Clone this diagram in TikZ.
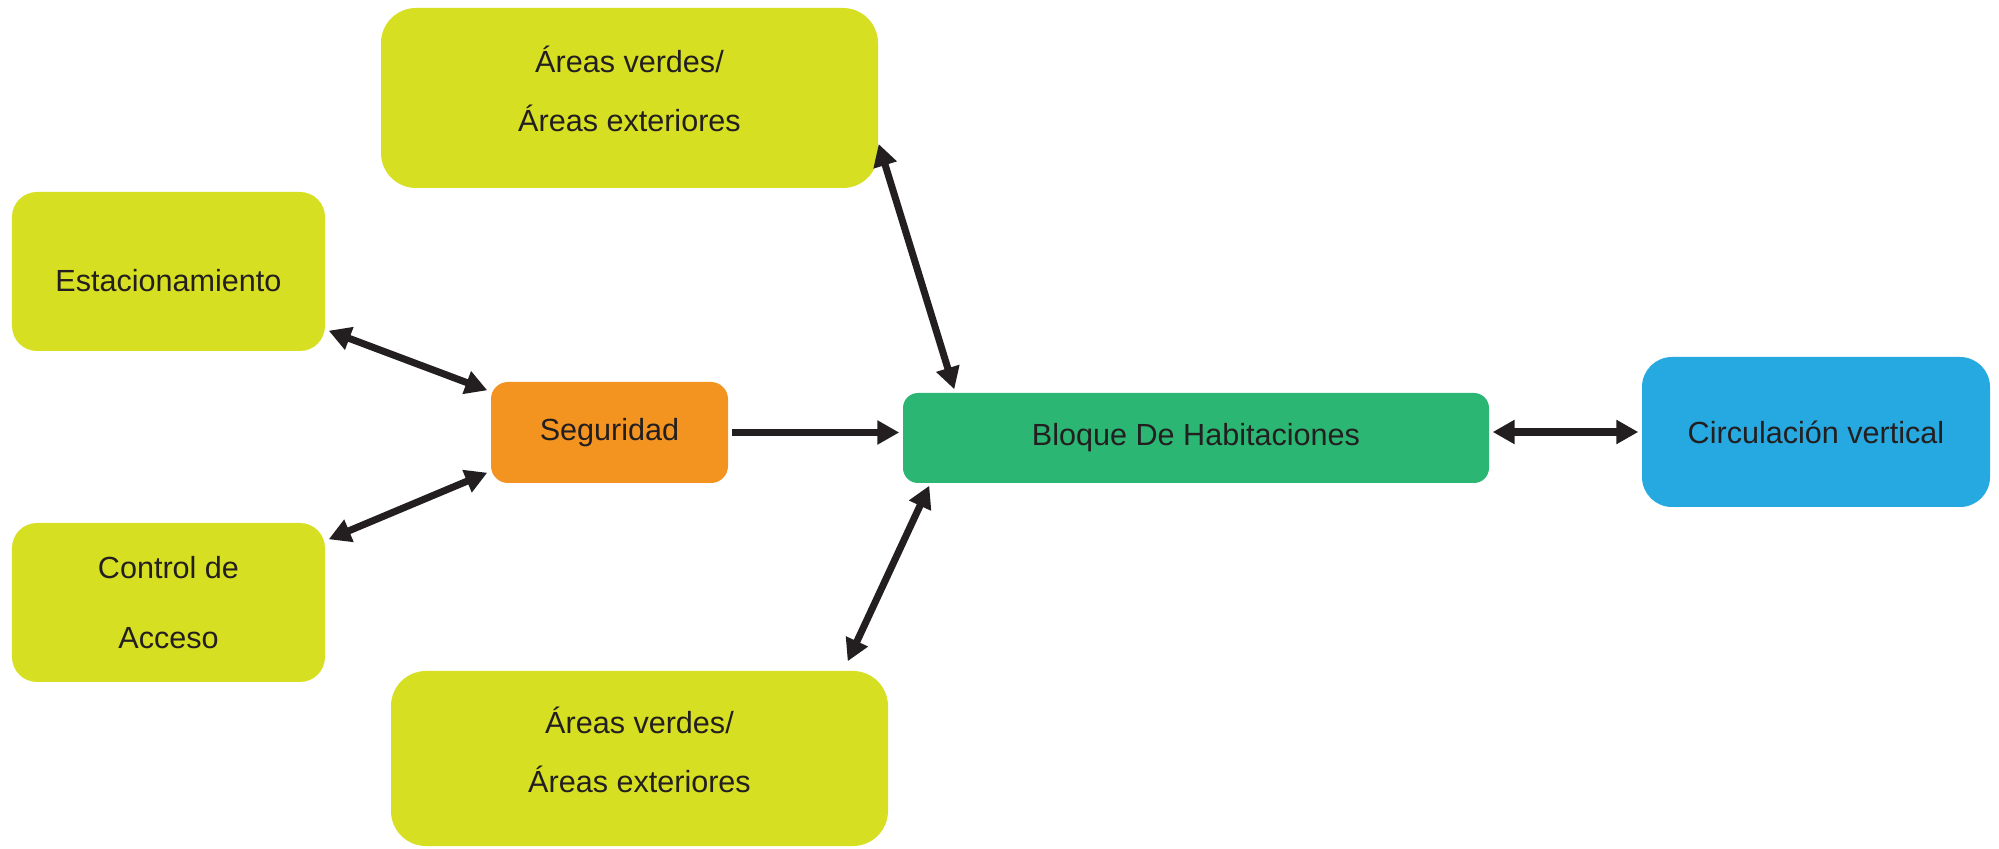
\documentclass[tikz,border=0pt]{standalone}
\usepackage{fontspec}
\setmainfont{Liberation Sans}
\usepackage{xcolor}
\usepackage{tikz}
\usetikzlibrary{arrows.meta,calc}

\definecolor{lima}{HTML}{D6DF21}
\definecolor{naranja}{HTML}{F39320}
\definecolor{verde}{HTML}{2BB673}
\definecolor{celeste}{HTML}{25A9E0}
\definecolor{tinta}{HTML}{231F20}
\newcommand{\boxfont}{\fontsize{8.7}{10.4}\selectfont}

\begin{document}
\begin{tikzpicture}[
  zona/.style={rectangle,rounded corners=2.5mm,fill=lima,text=tinta,align=center,font=\boxfont,inner sep=0pt},
  verdes/.style={zona,rounded corners=3.5mm,minimum width=4.97cm,text depth=1.8mm},
  lateral/.style={zona,minimum width=3.13cm,minimum height=1.59cm},
  seguro/.style={zona,fill=naranja,rounded corners=1.7mm,minimum width=2.37cm,minimum height=1.01cm},
  bloque/.style={zona,fill=verde,rounded corners=1.5mm,minimum width=5.86cm,minimum height=0.90cm},
  vertical/.style={zona,fill=celeste,rounded corners=3mm,minimum width=3.48cm,minimum height=1.50cm},
  arr/.style={-{Triangle[length=2.2mm,width=2.3mm]},line width=2pt,draw=tinta},
  darr/.style={arr,{Triangle[length=2.2mm,width=2.3mm]}-{Triangle[length=2.2mm,width=2.3mm]}}
]
\useasboundingbox (0,0) rectangle (19.99,8.48);

% Exterior areas
\node[verdes,minimum height=1.80cm] (verdesA) at (6.295,7.50) {Áreas verdes/\\[6.5pt]Áreas exteriores};
\node[verdes,minimum height=1.75cm] (verdesB) at (6.395,0.895) {Áreas verdes/\\[6.5pt]Áreas exteriores};

% Access side
\node[lateral] (est) at (1.685,5.765) {\raisebox{-0.9mm}[\height][\depth]{Estacionamiento}};
\node[lateral] (ctrl) at (1.685,2.455) {Control de\\[9.5pt]Acceso};
\node[seguro] (seg) at (6.095,4.155) {Seguridad};

% Main block
\node[bloque] (hab) at (11.96,4.10) {Bloque De Habitaciones};
\node[vertical] (circ) at (18.16,4.16) {Circulación vertical};

% Arrows
\draw[darr] ([yshift=-4.6mm]verdesA.east) -- ([xshift=5.2mm,yshift=0.3mm]hab.north west);
\draw[darr] ([xshift=2.7mm,yshift=-0.2mm]hab.south west) -- ([xshift=-4.1mm,yshift=0.9mm]verdesB.north east);
\draw[darr] ([xshift=0.3mm,yshift=2.1mm]est.south east) -- ([xshift=-0.3mm,yshift=-0.9mm]seg.north west);
\draw[darr] ([xshift=0.3mm,yshift=-1.7mm]ctrl.north east) -- ([xshift=-0.3mm,yshift=1.1mm]seg.south west);
\draw[arr] ([xshift=0.3mm]seg.east) -- ($(seg.east -| hab.west)+(-0.3mm,0)$);
\draw[darr] ($(circ.west -| hab.east)+(0.3mm,0)$) -- ([xshift=-0.3mm]circ.west);

\end{tikzpicture}
\end{document}
